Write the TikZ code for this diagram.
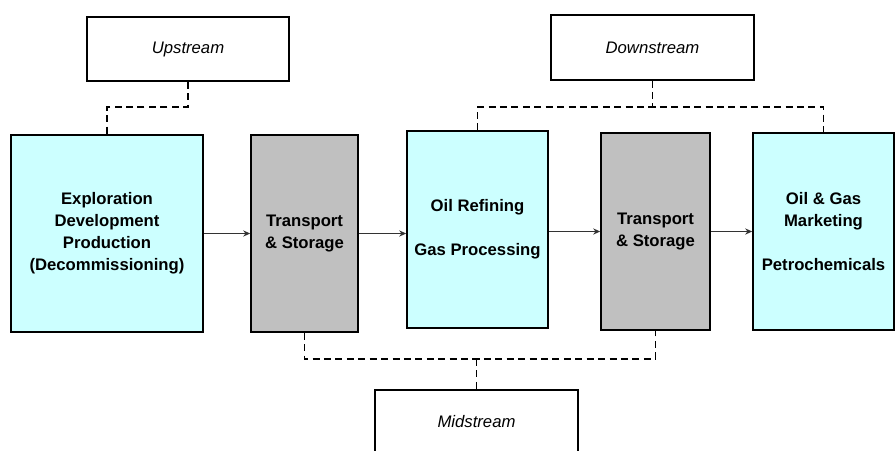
\documentclass[tikz,border=0pt]{standalone}
\usepackage{fontspec}
\setmainfont{Liberation Sans}
\usetikzlibrary{arrows.meta}
\definecolor{stagefill}{HTML}{CCFFFF}
\definecolor{transitfill}{HTML}{C0C0C0}
\begin{document}
\begin{tikzpicture}[box/.style={draw, line width=0.9pt, rectangle, align=center, font=\fontsize{9.5}{12.5}\selectfont\bfseries, minimum height=3.94cm, inner sep=0pt}, stage/.style={box, fill=stagefill}, transit/.style={box, fill=transitfill}, sector/.style={draw, line width=0.9pt, rectangle, minimum width=4.05cm, minimum height=1.29cm, font=\fontsize{9.5}{12}\selectfont\itshape}, link/.style={line width=0.8pt, dash pattern=on 4pt off 2.5pt}, flow/.style={line width=0.8pt, black!80, -{Stealth[length=4pt,width=3.5pt]}}]
\clip (0,0) rectangle (17.9,9);
\node[sector] (up) at (3.76,8.02){Upstream};
\node[sector] (down) at (13.05,8.05){Downstream};
\node[sector] (mid) at (9.53,0.56){Midstream};
\node[stage, minimum width=3.84cm] (expl) at (2.14,4.33){Exploration\\Development\\Production\\(Decommissioning)};
\node[transit, minimum width=2.14cm] (ts1) at (6.09,4.33){Transport\\\& Storage};
\node[stage, minimum width=2.82cm] (refin) at (9.55,4.41){Oil Refining\\[12.5pt]Gas Processing};
\node[transit, minimum width=2.18cm] (ts2) at (13.11,4.37){Transport\\\& Storage};
\node[stage, minimum width=2.82cm] (mkt) at (16.47,4.37){Oil \& Gas\\Marketing\\[12.5pt]Petrochemicals};
\coordinate (upj) at (3.76,6.86);
\coordinate (downj) at (13.05,6.86);
\coordinate (midj) at (9.53,1.82);
\draw[link] (up.south) -- (upj) -| (expl.north);
\draw[link] (down.south) -- (downj);
\draw[link] (refin.north) |- (downj) -| (mkt.north);
\draw[link] (ts1.south) |- (midj) -| (ts2.south);
\draw[link] (midj) -- (mid.north);
\draw[flow] (expl.east) -- (ts1.west);
\draw[flow] (ts1.east) -- (ts1.east -| refin.west);
\draw[flow] (refin.east |- ts2) -- (ts2.west);
\draw[flow] (ts2.east) -- (mkt.west);
\end{tikzpicture}
\end{document}
